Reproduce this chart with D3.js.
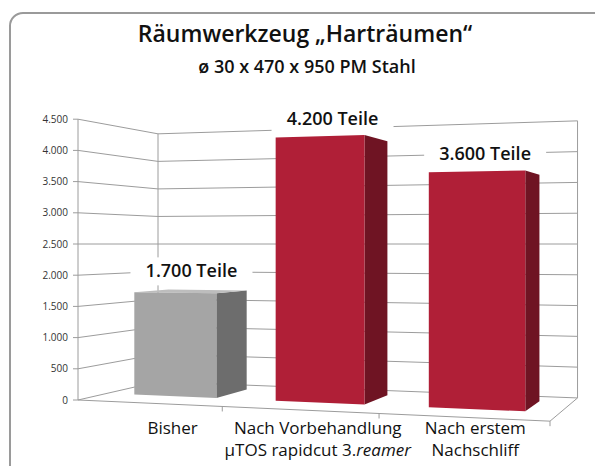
<!DOCTYPE html>
<html>
<head>
<meta charset="utf-8">
<script src="https://cdn.jsdelivr.net/npm/d3@7"></script>
<style>
  html, body { margin: 0; padding: 0; background: #fff; }
  svg { display: block; font-family: "Open Sans", sans-serif; }
</style>
</head>
<body>
<svg id="chart"></svg>
<script>
const width = 595;
const height = 466;

// data
const categories = ["Bisher", "Nach Vorbehandlung µTOS rapidcut 3.reamer", "Nach erstem Nachschliff"];
const categoryLines = [
    ["Bisher"],
    ["Nach Vorbehandlung", "µTOS rapidcut 3.|reamer"],   // part after | is italic
    ["Nach erstem", "Nachschliff"]
];
const values = [1700, 4200, 3600];
const yTicks = [0, 500, 1000, 1500, 2000, 2500, 3000, 3500, 4000, 4500];
const unit = "Teile";
const titleText = "Räumwerkzeug „Harträumen“";
const subtitleText = "ø 30 x 470 x 950 PM Stahl";

const de = d3.formatLocale({ decimal: ",", thousands: ".", grouping: [3], currency: ["", " €"] });
const fmt = de.format(",d");

// perspective set-up (camera without pitch, turned a bit to the right)
const horizonY = 244;
const eyeValue = 2500;
const vpX = [-3400, horizonY];
const vpZ = [760, horizonY];
const frontLeft = [78, 400];
const frontRightX = 550;
const backLeftX = 158;

function yOnLine(a, b, x) {
    return a[1] + (b[1] - a[1]) * (x - a[0]) / (b[0] - a[0]);
}
const frontRight = [frontRightX, yOnLine(frontLeft, vpX, frontRightX)];
const backLeft = [backLeftX, yOnLine(frontLeft, vpZ, backLeftX)];

// point between a (t=0) and b (t=1) on a line that vanishes at v
function persp(a, b, v, t) {
    const sb = b[0] - a[0], sv = v[0] - a[0];
    const m = sv / sb - 1;
    const x = a[0] + sv * t / (t + m);
    return [x, yOnLine(a, v, x)];
}
function intersect(p1, p2, p3, p4) {
    const d = (p1[0] - p2[0]) * (p3[1] - p4[1]) - (p1[1] - p2[1]) * (p3[0] - p4[0]);
    const a = p1[0] * p2[1] - p1[1] * p2[0];
    const b = p3[0] * p4[1] - p3[1] * p4[0];
    return [(a * (p3[0] - p4[0]) - (p1[0] - p2[0]) * b) / d,
            (a * (p3[1] - p4[1]) - (p1[1] - p2[1]) * b) / d];
}
function floorPoint(u, w) {
    const f = persp(frontLeft, frontRight, vpX, u);
    if (w === 0) return f;
    const l = persp(frontLeft, backLeft, vpZ, w);
    if (u === 0) return l;
    return intersect(vpZ, f, vpX, l);
}

const xScale = d3.scaleBand()
    .domain(categories)
    .range([0, 1])
    .paddingInner(0.41)
    .paddingOuter(0.205);

const yScale = d3.scaleLinear()
    .domain([0, eyeValue])
    .range([0, 1]);

function project(u, w, v) {
    const p = floorPoint(u, w);
    return [p[0], horizonY + (p[1] - horizonY) * (1 - yScale(v))];
}

const barFront = 0.33;
const barBack = 0.78;
const yMax = d3.max(yTicks);

const barStyle = d3.scaleOrdinal()
    .domain(categories)
    .range([
        { front: "#a5a5a5", side: "#6d6d6d", top: "#bdbdbd" },
        { front: "#b01f37", side: "#6f1423", top: "#c23a50" },
        { front: "#b01f37", side: "#6f1423", top: "#c23a50" }
    ]);

const svg = d3.select("#chart")
    .attr("width", width)
    .attr("height", height);

svg.append("rect")
    .attr("x", 10)
    .attr("y", 13)
    .attr("width", 640)
    .attr("height", 520)
    .attr("rx", 13)
    .attr("fill", "#fff")
    .attr("stroke", "#9a9a9a")
    .attr("stroke-width", 2);

const line = d3.line();
const gridColor = "#9c9c9c";

// walls: gridlines on left and back wall
const grid = svg.append("g")
    .attr("fill", "none")
    .attr("stroke", gridColor)
    .attr("stroke-width", 1);

grid.selectAll(".grid")
    .data(yTicks)
    .enter()
    .append("path")
    .attr("class", "grid")
    .attr("d", v => line([project(0, 0, v), project(0, 1, v), project(1, 1, v)]));

// wall edges
grid.selectAll(".edge")
    .data([[0, 0], [0, 1], [1, 1]])
    .enter()
    .append("path")
    .attr("class", "edge")
    .attr("d", d => line([project(d[0], d[1], 0), project(d[0], d[1], yMax)]));

// floor front and right edge
grid.append("path")
    .attr("d", line([project(0, 0, 0), project(1, 0, 0), project(1, 1, 0)]));

// category ticks
const boundaries = categories.map((c, i) => (i + 1) / categories.length);
grid.selectAll(".xtick")
    .data(boundaries)
    .enter()
    .append("path")
    .attr("class", "xtick")
    .attr("d", u => {
        const p = project(u, 0, 0);
        return line([p, [p[0], p[1] + 5]]);
    });

// value ticks and labels
grid.selectAll(".ytick")
    .data(yTicks)
    .enter()
    .append("path")
    .attr("class", "ytick")
    .attr("d", v => {
        const p = project(0, 0, v);
        return line([[p[0] - 5, p[1]], p]);
    });

svg.append("g")
    .selectAll("text")
    .data(yTicks)
    .enter()
    .append("text")
    .attr("x", 68)
    .attr("y", v => project(0, 0, v)[1])
    .attr("dy", "0.35em")
    .attr("text-anchor", "end")
    .attr("font-size", 10)
    .attr("fill", "#333")
    .text(v => fmt(v));

// bars
const bars = svg.selectAll(".bar")
    .data(categories.map((c, i) => ({ cat: c, value: values[i] })))
    .enter()
    .append("g")
    .attr("class", "bar");

bars.append("path")
    .attr("fill", d => barStyle(d.cat).side)
    .attr("d", d => {
        const u1 = xScale(d.cat) + xScale.bandwidth();
        return line([project(u1, barFront, 0), project(u1, barBack, 0),
                     project(u1, barBack, d.value), project(u1, barFront, d.value)]) + "Z";
    });

bars.filter(d => d.value < eyeValue)
    .append("path")
    .attr("fill", d => barStyle(d.cat).top)
    .attr("d", d => {
        const u0 = xScale(d.cat), u1 = u0 + xScale.bandwidth();
        return line([project(u0, barFront, d.value), project(u1, barFront, d.value),
                     project(u1, barBack, d.value), project(u0, barBack, d.value)]) + "Z";
    });

bars.append("path")
    .attr("fill", d => barStyle(d.cat).front)
    .attr("d", d => {
        const u0 = xScale(d.cat), u1 = u0 + xScale.bandwidth();
        return line([project(u0, barFront, 0), project(u1, barFront, 0),
                     project(u1, barFront, d.value), project(u0, barFront, d.value)]) + "Z";
    });

// value labels with white background
const valueLabels = svg.selectAll(".vlabel")
    .data(categories.map((c, i) => ({ cat: c, value: values[i] })))
    .enter()
    .append("g")
    .attr("class", "vlabel")
    .attr("transform", d => {
        const p = project(xScale(d.cat) + xScale.bandwidth() / 2, (barFront + barBack) / 2, d.value);
        return `translate(${p[0]}, ${p[1] - 14})`;
    });

valueLabels.append("rect")
    .attr("x", -61)
    .attr("y", -20)
    .attr("width", 122)
    .attr("height", 28)
    .attr("fill", "#fff");

valueLabels.append("text")
    .attr("text-anchor", "middle")
    .attr("font-size", 18)
    .attr("font-weight", 600)
    .attr("fill", "#111")
    .text(d => `${fmt(d.value)} ${unit}`);

// category labels
const labelTop = project(0.5, 0, 0)[1] + 24;
const catLabels = svg.selectAll(".clabel")
    .data(categories)
    .enter()
    .append("text")
    .attr("class", "clabel")
    .attr("text-anchor", "middle")
    .attr("font-size", 17)
    .attr("fill", "#111")
    .attr("transform", c => {
        const p = project(xScale(c) + xScale.bandwidth() / 2, 0.3, 0);
        return `translate(${p[0]}, ${labelTop})`;
    });

catLabels.each(function(c, i) {
    const t = d3.select(this);
    categoryLines[i].forEach((ln, j) => {
        const parts = ln.split("|");
        t.append("tspan")
            .attr("x", 0)
            .attr("y", j * 22)
            .text(parts[0]);
        if (parts[1]) {
            t.append("tspan")
                .attr("font-style", "italic")
                .text(parts[1]);
        }
    });
});

// titles
svg.append("text")
    .attr("x", 305)
    .attr("y", 42)
    .attr("text-anchor", "middle")
    .attr("font-size", 23)
    .attr("font-weight", 600)
    .attr("fill", "#111")
    .text(titleText);

svg.append("text")
    .attr("x", 307)
    .attr("y", 73)
    .attr("text-anchor", "middle")
    .attr("font-size", 18)
    .attr("font-weight", 600)
    .attr("fill", "#111")
    .text(subtitleText);
</script>
</body>
</html>
